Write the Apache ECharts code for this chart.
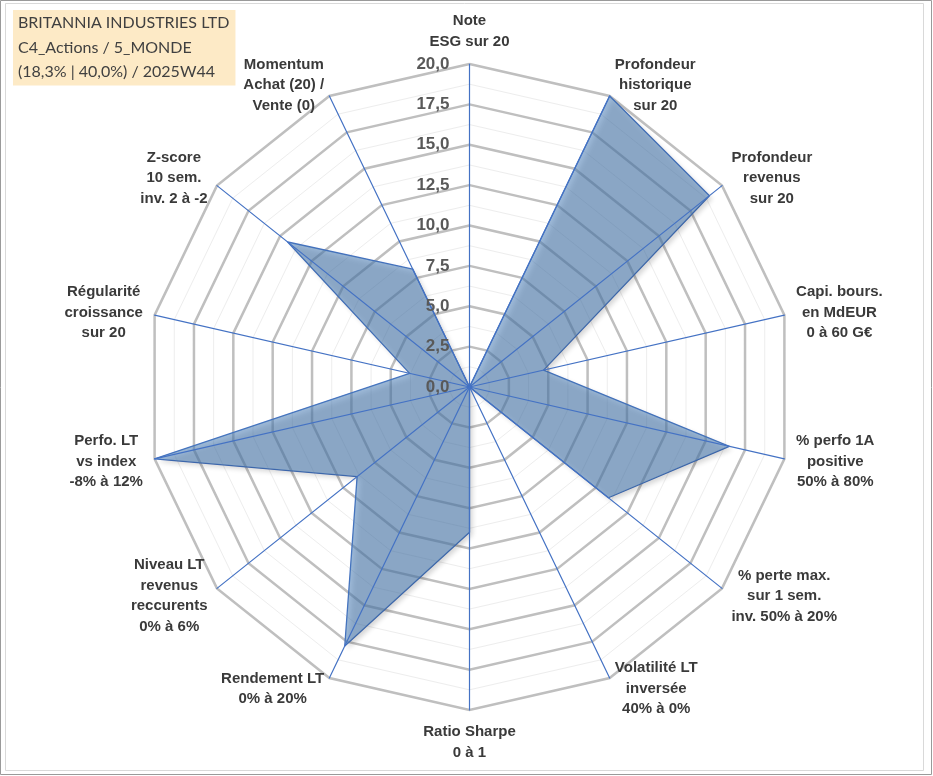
<!DOCTYPE html>
<html>
<head>
<meta charset="utf-8">
<script src="https://cdn.jsdelivr.net/npm/echarts@6/dist/echarts.min.js"></script>
<style>
  html, body { margin: 0; padding: 0; background: #fff; }
  #chart { width: 933px; height: 776px; }
</style>
</head>
<body>
<div id="chart"></div>
<script>
// axes clockwise from the top, as in the sheet
const axisNames = [
    'Note\nESG sur 20',
    'Profondeur\nhistorique\nsur 20',
    'Profondeur\nrevenus\nsur 20',
    'Capi. bours.\nen MdEUR\n0 à 60 G€',
    '% perfo 1A\npositive\n50% à 80%',
    '% perte max.\nsur 1 sem.\ninv. 50% à 20%',
    'Volatilité LT\ninversée\n40% à 0%',
    'Ratio Sharpe\n0 à 1',
    'Rendement LT\n0% à 20%',
    'Niveau LT\nrevenus\nreccurents\n0% à 6%',
    'Perfo. LT\nvs index\n-8% à 12%',
    'Régularité\ncroissance\nsur 20',
    'Z-score\n10 sem.\ninv. 2 à -2',
    'Momentum\nAchat (20) /\nVente (0)'
];
const scores = [0, 20, 19.0, 4.7, 16.5, 11.0, 0, 9.0, 17.8, 8.9, 20, 3.8, 14.4, 8.1];
const scaleMax = 20;
const majorSteps = 8;   // 2,5 par anneau
const minorSteps = 16;
const titleLines = ['BRITANNIA INDUSTRIES LTD', 'C4_Actions / 5_MONDE', '(18,3% | 40,0%) / 2025W44'];

// echarts turns counterclockwise: keep the top axis, reverse the others
const order = [0].concat(axisNames.map((_, i) => i).slice(1).reverse());

const center = [469.5, 387];
const radius = 323;
const blue = '#4472C4';

function indicators(withLabel) {
    return order.map((idx, k) => ({
        name: axisNames[idx],
        min: 0,
        max: scaleMax,
        axisLabel: { show: withLabel && k === 0 }
    }));
}

const chart = echarts.init(document.getElementById('chart'));

const option = {
    animation: false,
    backgroundColor: '#fff',
    title: {
        text: titleLines.join('\n'),
        left: 13,
        top: 10,
        padding: [1, 6, 1, 5],
        backgroundColor: '#FDEAC6',
        textStyle: {
            fontFamily: 'Lato',
            fontSize: 16,
            fontWeight: 'normal',
            color: '#404040',
            lineHeight: 24.5
        }
    },
    graphic: [
        { type: 'rect', shape: { x: 0.5, y: 0.5, width: 931, height: 774 }, style: { fill: null, stroke: '#9a9a9a', lineWidth: 1 }, z: 0 },
        { type: 'rect', shape: { x: 5.5, y: 3.5, width: 918, height: 767 }, style: { fill: null, stroke: '#d9d9d9', lineWidth: 1 }, z: 0 }
    ],
    radar: [
        {   // minor rings
            center: center, radius: radius, startAngle: 90, shape: 'polygon',
            splitNumber: minorSteps,
            indicator: indicators(false),
            axisName: { show: false },
            axisLine: { show: false },
            splitArea: { show: false },
            splitLine: { lineStyle: { color: '#ededed', width: 1 } },
            z: 0
        },
        {   // major rings
            center: center, radius: radius, startAngle: 90, shape: 'polygon',
            splitNumber: majorSteps,
            indicator: indicators(false),
            axisName: { show: false },
            axisLine: { show: false },
            splitArea: { show: false },
            splitLine: { lineStyle: { color: '#bfbfbf', width: 2.5 } },
            z: 1
        },
        {   // spokes, tick labels and names on top of the area
            center: center, radius: radius, startAngle: 90, shape: 'polygon',
            splitNumber: majorSteps,
            indicator: indicators(true),
            nameGap: 12,
            axisName: {
                formatter: function (name) {
                    return name.split('\n').map(s => '{c|' + s + '}').join('\n');
                },
                rich: {
                    c: {
                        align: 'center',
                        fontFamily: 'Arial',
                        fontSize: 15,
                        fontWeight: 'bold',
                        color: '#3a3a3a',
                        lineHeight: 20.5
                    }
                }
            },
            axisLine: { lineStyle: { color: blue, width: 1.2 } },
            axisLabel: {
                margin: 20,
                fontFamily: 'Arial',
                fontSize: 17,
                fontWeight: 'bold',
                color: '#595959',
                formatter: v => v.toFixed(1).replace('.', ',')
            },
            splitArea: { show: false },
            splitLine: { show: false },
            z: 4
        }
    ],
    series: [{
        type: 'radar',
        radarIndex: 1,
        symbol: 'none',
        z: 2,
        lineStyle: { color: blue, width: 1.3 },
        areaStyle: {
            color: 'rgba(76,126,184,0.78)',
            shadowBlur: 5,
            shadowColor: 'rgba(0,0,0,0.3)',
            shadowOffsetX: 3,
            shadowOffsetY: 3
        },
        data: [{ value: order.map(i => scores[i]), name: 'BRITANNIA INDUSTRIES LTD' }]
    }]
};

chart.setOption(option);
</script>
</body>
</html>
